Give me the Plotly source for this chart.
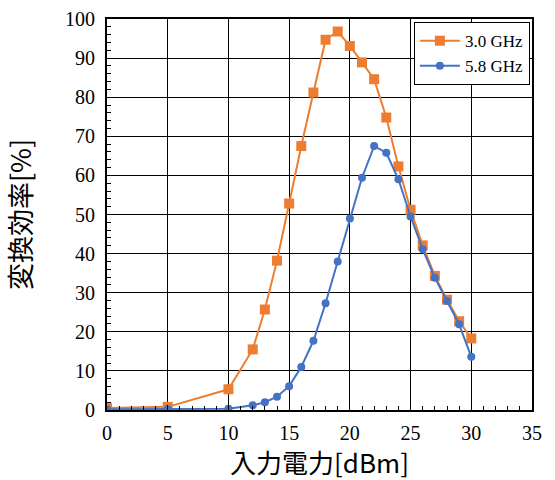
import plotly.graph_objects as go

x_vals = [0, 5, 10, 12, 13, 14, 15, 16, 17, 18, 19, 20, 21, 22, 23, 24, 25, 26, 27, 28, 29, 30]
eff_30ghz = [0.5, 0.8, 5.3, 15.5, 25.7, 38.2, 52.8, 67.5, 81.2, 94.7, 96.8, 93.1, 88.9, 84.6, 74.8,
             62.3, 51.2, 42.1, 34.3, 28.2, 22.7, 18.3]
eff_58ghz = [0.2, 0.2, 0.3, 1.2, 2.0, 3.4, 6.1, 11.0, 17.7, 27.3, 38.0, 49.0, 59.4, 67.5, 65.8,
             59.0, 49.5, 41.1, 33.8, 27.9, 21.9, 13.6]
series_names = ["3.0 GHz", "5.8 GHz"]

fig = go.Figure()
fig.add_trace(go.Scatter(x=x_vals, y=eff_30ghz, name=series_names[0], mode="lines+markers",
                         line=dict(color="#ED7D31", width=2),
                         marker=dict(symbol="square", size=10, color="#ED7D31")))
fig.add_trace(go.Scatter(x=x_vals, y=eff_58ghz, name=series_names[1], mode="lines+markers",
                         line=dict(color="#4472C4", width=2),
                         marker=dict(symbol="circle", size=8, color="#4472C4")))

serif = "Liberation Serif, Times New Roman, serif"
axis_common = dict(showgrid=True, gridcolor="#000000", gridwidth=1,
                   showline=True, linecolor="#000000", linewidth=2, mirror=True,
                   ticks="inside", ticklen=5, tickcolor="#000000", tickwidth=1,
                   tickfont=dict(family=serif, size=20, color="#000000"),
                   ticklabeloverflow="allow",
                   zeroline=False, automargin=False)

fig.update_xaxes(range=[0, 35], dtick=5, tick0=0, ticklabelstandoff=4,
                 minor=dict(dtick=1, ticks="inside", ticklen=4, tickcolor="#000000", showgrid=False),
                 title=dict(text="入力電力[dBm]", font=dict(family="Noto Sans CJK JP", size=26, color="#000000"),
                            standoff=10),
                 **axis_common)
fig.update_yaxes(range=[0, 100], dtick=10, tick0=0, ticklabelstandoff=6,
                 minor=dict(dtick=2, ticks="inside", ticklen=4, tickcolor="#000000", showgrid=False),
                 title=dict(text="変換効率[%]", font=dict(family="Noto Sans CJK JP", size=27, color="#000000"),
                            standoff=38),
                 **axis_common)

fig.update_layout(width=555, height=480,
                  margin=dict(l=107, r=23, t=19, b=70),
                  plot_bgcolor="#FFFFFF", paper_bgcolor="#FFFFFF",
                  legend=dict(x=0.995, y=0.992, xanchor="right", yanchor="top",
                              bgcolor="#FFFFFF", bordercolor="#000000", borderwidth=1,
                              font=dict(family=serif, size=17, color="#000000"),
                              tracegroupgap=0, itemwidth=40))

fig.write_html("out.html", config={"displayModeBar": False},
               post_script="document.body.style.margin='0px';document.body.style.overflow='hidden';")
